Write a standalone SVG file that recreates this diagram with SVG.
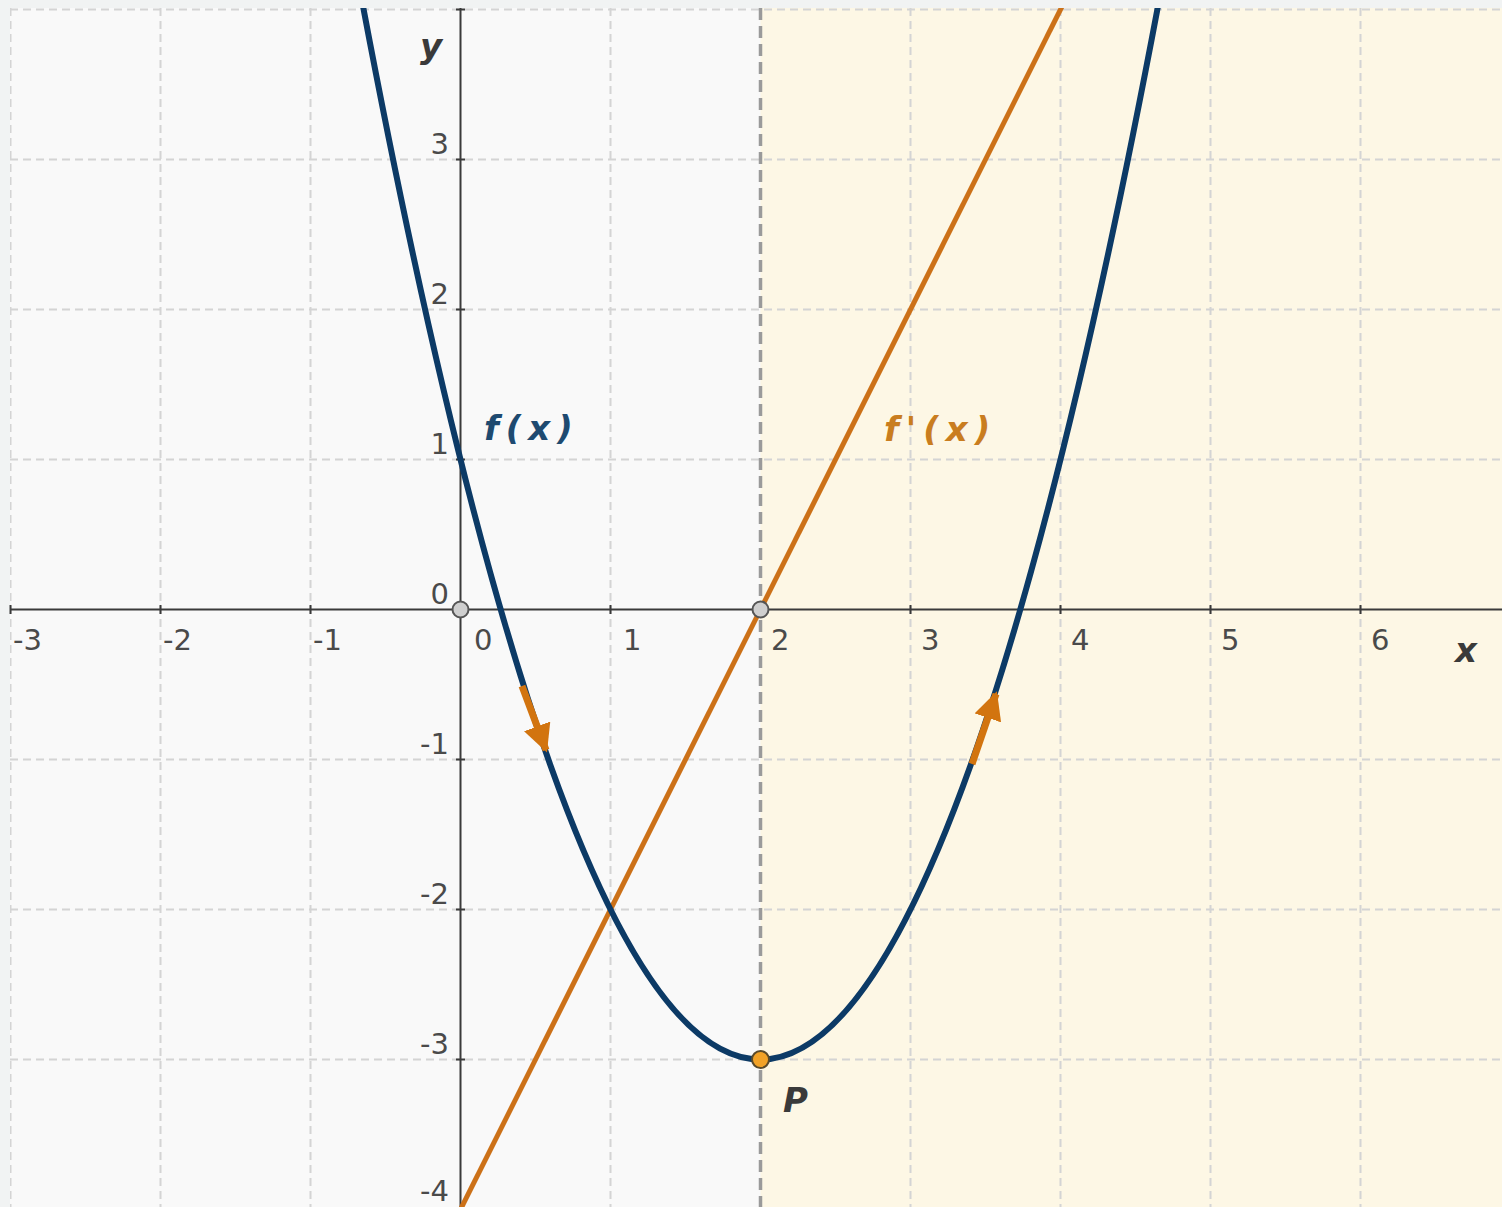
<svg xmlns="http://www.w3.org/2000/svg" width="1502" height="1207" viewBox="0 0 1502 1207">
<style>
.grid{stroke:#d4d4d4;stroke-width:2;stroke-dasharray:8,5;fill:none}
.axis{stroke:#3a3a3a;stroke-width:2;fill:none}
.tick{stroke:#3a3a3a;stroke-width:2}
.num{font-family:"DejaVu Sans",sans-serif;font-size:29px;fill:#4a4a4a}
.ynum{text-anchor:end}
.lab{font-family:"DejaVu Sans",sans-serif;font-weight:bold;font-style:italic;font-size:34px}
</style>
<defs>
<clipPath id="plot"><rect x="10" y="8" width="1492" height="1199"/></clipPath>
<marker id="ah" viewBox="0 0 10 10" refX="9" refY="5" markerWidth="4" markerHeight="4" orient="auto" markerUnits="strokeWidth">
<path d="M0,0 L10,5 L0,10 z" fill="#d2740f"/>
</marker>
</defs>
<rect x="0" y="0" width="1502" height="1207" fill="#f1f3f3"/>
<rect x="10" y="8" width="751" height="1199" fill="#f9f9f9"/>
<rect x="760.5" y="8" width="742" height="1199" fill="#fdf7e5"/>
<g id="grid" clip-path="url(#plot)">
<path class="grid" d="M10.5,8V1207M160.5,8V1207M310.5,8V1207M610.5,8V1207M910.5,8V1207M1060.5,8V1207M1210.5,8V1207M1360.5,8V1207"/>
<path class="grid" d="M10,9.5H1502M10,159.5H1502M10,309.5H1502M10,459.5H1502M10,759.5H1502M10,909.5H1502M10,1059.5H1502"/>
</g>
<g id="divider">
<line x1="760.5" y1="8" x2="760.5" y2="1207" stroke="#9a9a9a" stroke-width="3.5" stroke-dasharray="12,6"/>
</g>
<g id="axes">
<line class="axis" x1="10" y1="609.5" x2="1502" y2="609.5"/>
<line class="axis" x1="460.5" y1="8" x2="460.5" y2="1207"/>
<path class="tick" d="M10.5,605V614M160.5,605V614M310.5,605V614M610.5,605V614M760.5,605V614M910.5,605V614M1060.5,605V614M1210.5,605V614M1360.5,605V614"/>
<path class="tick" d="M456,9.5H465M456,159.5H465M456,309.5H465M456,459.5H465M456,759.5H465M456,909.5H465M456,1059.5H465"/>
</g>
<g id="xlabels" class="num">
<text x="13" y="650">-3</text>
<text x="163" y="650">-2</text>
<text x="313" y="650">-1</text>
<text x="474" y="650">0</text>
<text x="623" y="650">1</text>
<text x="771" y="650">2</text>
<text x="921" y="650">3</text>
<text x="1071" y="650">4</text>
<text x="1221" y="650">5</text>
<text x="1371" y="650">6</text>
</g>
<g id="ylabels" class="num ynum">
<text x="449" y="154">3</text>
<text x="449" y="304">2</text>
<text x="449" y="454">1</text>
<text x="449" y="604">0</text>
<text x="449" y="754">-1</text>
<text x="449" y="904">-2</text>
<text x="449" y="1054">-3</text>
<text x="449" y="1201">-4</text>
</g>
<g id="curves" clip-path="url(#plot)">
<g id="derivative">
<line x1="445.5" y1="1239.5" x2="1075.5" y2="-20.5" stroke="#cc7118" stroke-width="5"/>
</g>
<g id="function">
<path d="M340.5,-116.5 Q760.5,2235.5 1180.5,-116.5" fill="none" stroke="#0c3a66" stroke-width="6"/>
</g>
</g>
<g id="connectors">
<line x1="522" y1="686" x2="546" y2="750" stroke="#d2740f" stroke-width="7" marker-end="url(#ah)"/>
<line x1="972" y1="764" x2="996" y2="694" stroke="#d2740f" stroke-width="7" marker-end="url(#ah)"/>
</g>
<g id="points">
<circle id="origin" cx="460.5" cy="609.5" r="8" fill="#cfcfcf" stroke="#555" stroke-width="2"/>
<circle id="root" cx="760.5" cy="609.5" r="8" fill="#cfcfcf" stroke="#555" stroke-width="2"/>
<circle id="P" cx="760.5" cy="1059.5" r="8.5" fill="#f2a227" stroke="#5a4a2a" stroke-width="2"/>
</g>
<g id="labels">
<text class="lab" x="1455" y="662" fill="#3a3a3a">x</text>
<text class="lab" x="420" y="58" fill="#3a3a3a">y</text>
<text class="lab" x="484" y="440" fill="#1e4a70" letter-spacing="7">f(x)</text>
<text class="lab" x="884" y="441" fill="#c97d1f" letter-spacing="7">f'(x)</text>
<text class="lab" x="783" y="1112" fill="#3a3a3a">P</text>
</g>
</svg>
